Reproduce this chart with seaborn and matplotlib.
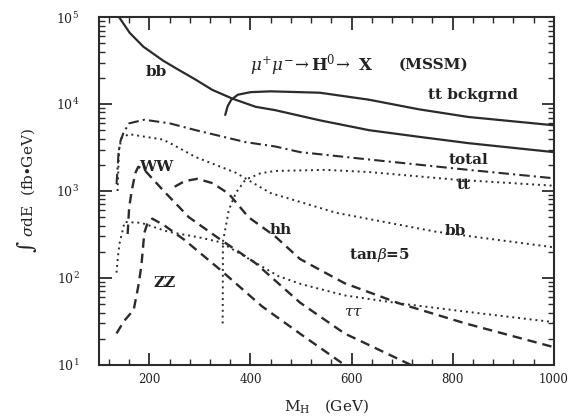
import numpy as np
import pandas as pd
import matplotlib
matplotlib.use("Agg")
import matplotlib.pyplot as plt
import matplotlib.ticker as mticker
import seaborn as sns

# --- data (M_H in GeV, integrated sigma dE in fb*GeV) ---
bb_bkg_x = [140, 161, 188, 227, 253, 292, 325, 365, 410, 449, 537, 635, 733, 831, 1000]
bb_bkg_y = [100000, 66000, 45700, 31600, 25700, 19000, 14500, 11500, 9300, 8500, 6500, 5000, 4200, 3550, 2800]

tt_bkg_x = [350, 355, 362, 375, 400, 440, 537, 635, 733, 831, 1000]
tt_bkg_y = [7500, 9500, 11200, 12800, 13700, 14000, 13500, 11200, 8700, 7100, 5700]

total_x = [135, 137, 139, 143, 149, 160, 190, 240, 292, 390, 449, 498, 635, 831, 1000]
total_y = [1200, 1800, 2750, 3800, 4700, 6000, 6600, 6000, 5000, 3650, 3250, 2800, 2300, 1750, 1400]

tt_x = [345, 345.5, 357, 371, 390, 420, 449, 550, 635, 806, 1000]
tt_y = [30, 260, 600, 950, 1350, 1600, 1700, 1750, 1650, 1350, 1150]

bb_x = [137, 140, 145, 160, 227, 247, 292, 371, 439, 570, 767, 1000]
bb_y = [1000, 3000, 4100, 4500, 3900, 3400, 2450, 1620, 950, 560, 340, 225]

tautau_x = [135, 138, 141, 151, 184, 237, 302, 341, 390, 455, 500, 586, 694, 825, 1000]
tautau_y = [115, 180, 250, 440, 430, 340, 290, 257, 175, 105, 85, 63, 51, 41, 31]

ww_x = [157, 160, 165, 172, 178, 190, 227, 278, 341, 410, 498, 586, 717]
ww_y = [320, 650, 1000, 1600, 1900, 1750, 1020, 500, 275, 148, 52, 23, 10]

zz_x = [135, 150, 169, 178, 184, 190, 197, 206, 230, 269, 341, 423, 502, 586]
zz_y = [23, 32, 43, 80, 135, 330, 440, 480, 400, 275, 123, 47, 22, 10]

hh_x = [250, 270, 295, 325, 357, 396, 449, 498, 586, 694, 825, 1000]
hh_y = [1120, 1300, 1380, 1230, 930, 500, 300, 165, 87, 51, 30, 16]

sns.set_style("ticks")
plt.rcParams["font.family"] = ["DejaVu Serif"]
plt.rcParams["mathtext.fontset"] = "dejavuserif"

ink = "#2b2b2b"
fig = plt.figure(figsize=(5.68, 4.17), dpi=100)
ax = fig.add_axes([0.174, 0.125, 0.801, 0.834])

solid = dict(linestyle="-", linewidth=1.6)
dash = dict(linestyle=(0, (4, 2.5)), linewidth=1.7)
dot = dict(linestyle=(0, (1, 2)), linewidth=1.4)
dashdot = dict(linestyle=(0, (5, 2, 1, 2)), linewidth=1.5)

curves = [
    (bb_bkg_x, bb_bkg_y, solid),
    (tt_bkg_x, tt_bkg_y, solid),
    (total_x, total_y, dashdot),
    (tt_x, tt_y, dot),
    (bb_x, bb_y, dot),
    (tautau_x, tautau_y, dot),
    (ww_x, ww_y, dash),
    (zz_x, zz_y, dash),
    (hh_x, hh_y, dash),
]
for xs, ys, style in curves:
    sns.lineplot(x=xs, y=ys, ax=ax, color=ink, estimator=None, sort=False, **style)

ax.set_yscale("log")
ax.set_xlim(100, 1000)
ax.set_ylim(10, 1e5)

ax.xaxis.set_major_locator(mticker.MultipleLocator(200))
ax.xaxis.set_minor_locator(mticker.MultipleLocator(40))
ax.yaxis.set_major_locator(mticker.LogLocator(base=10, numticks=10))
ax.yaxis.set_minor_locator(mticker.LogLocator(base=10, subs=np.arange(2, 10), numticks=20))
ax.yaxis.set_minor_formatter(mticker.NullFormatter())
ax.yaxis.set_major_formatter(mticker.FuncFormatter(lambda v, p: r"$10^{%d}$" % round(np.log10(v))))
ax.xaxis.set_major_formatter(mticker.FuncFormatter(lambda v, p: "%d" % v))

ax.tick_params(which="both", direction="in", top=True, right=True, colors=ink, labelcolor="#222222")
ax.tick_params(which="major", length=9, width=1.3)
ax.tick_params(which="minor", length=4, width=1.0)
ax.tick_params(axis="y", which="major", labelsize=9, pad=14)
ax.tick_params(axis="x", which="major", labelsize=8.5, pad=6)
for s in ax.spines.values():
    s.set_linewidth(1.5)
    s.set_color(ink)

ax.set_xlabel(r"M$_{\mathregular{H}}$   (GeV)", fontsize=11, color="#222222", labelpad=8)
ax.set_ylabel(r"$\int$ $\sigma$dE  (fb$\bullet$GeV)", fontsize=11, color="#222222", labelpad=12)

lab = dict(color="#222222", fontsize=11, fontweight="bold", ha="center", va="center")
ax.text(214, 10**4.37, "bb", **lab)
ax.text(400, 10**4.45, r"$\mu^{+}\mu^{-}\!\rightarrow$H$^{0}\!\rightarrow$ X", color="#222222",
        fontsize=12, fontweight="bold", ha="left", va="center")
ax.text(694, 10**4.45, "(MSSM)", color="#222222", fontsize=11, fontweight="bold",
        ha="left", va="center")
ax.text(841, 10**4.10, "tt bckgrnd", **lab)
ax.text(831, 10**3.36, "total", **lab)
ax.text(822, 10**3.07, "tt", **lab)
ax.text(214, 10**3.28, "WW", **lab)
ax.text(459, 10**2.55, "hh", **lab)
ax.text(806, 10**2.54, "bb", **lab)
ax.text(655, 10**2.26, r"tan$\beta$=5", **lab)
ax.text(604, 10**1.61, r"$\tau\tau$", **lab)
ax.text(231, 10**1.94, "ZZ", **lab)

fig.savefig("out.png", dpi=100)
